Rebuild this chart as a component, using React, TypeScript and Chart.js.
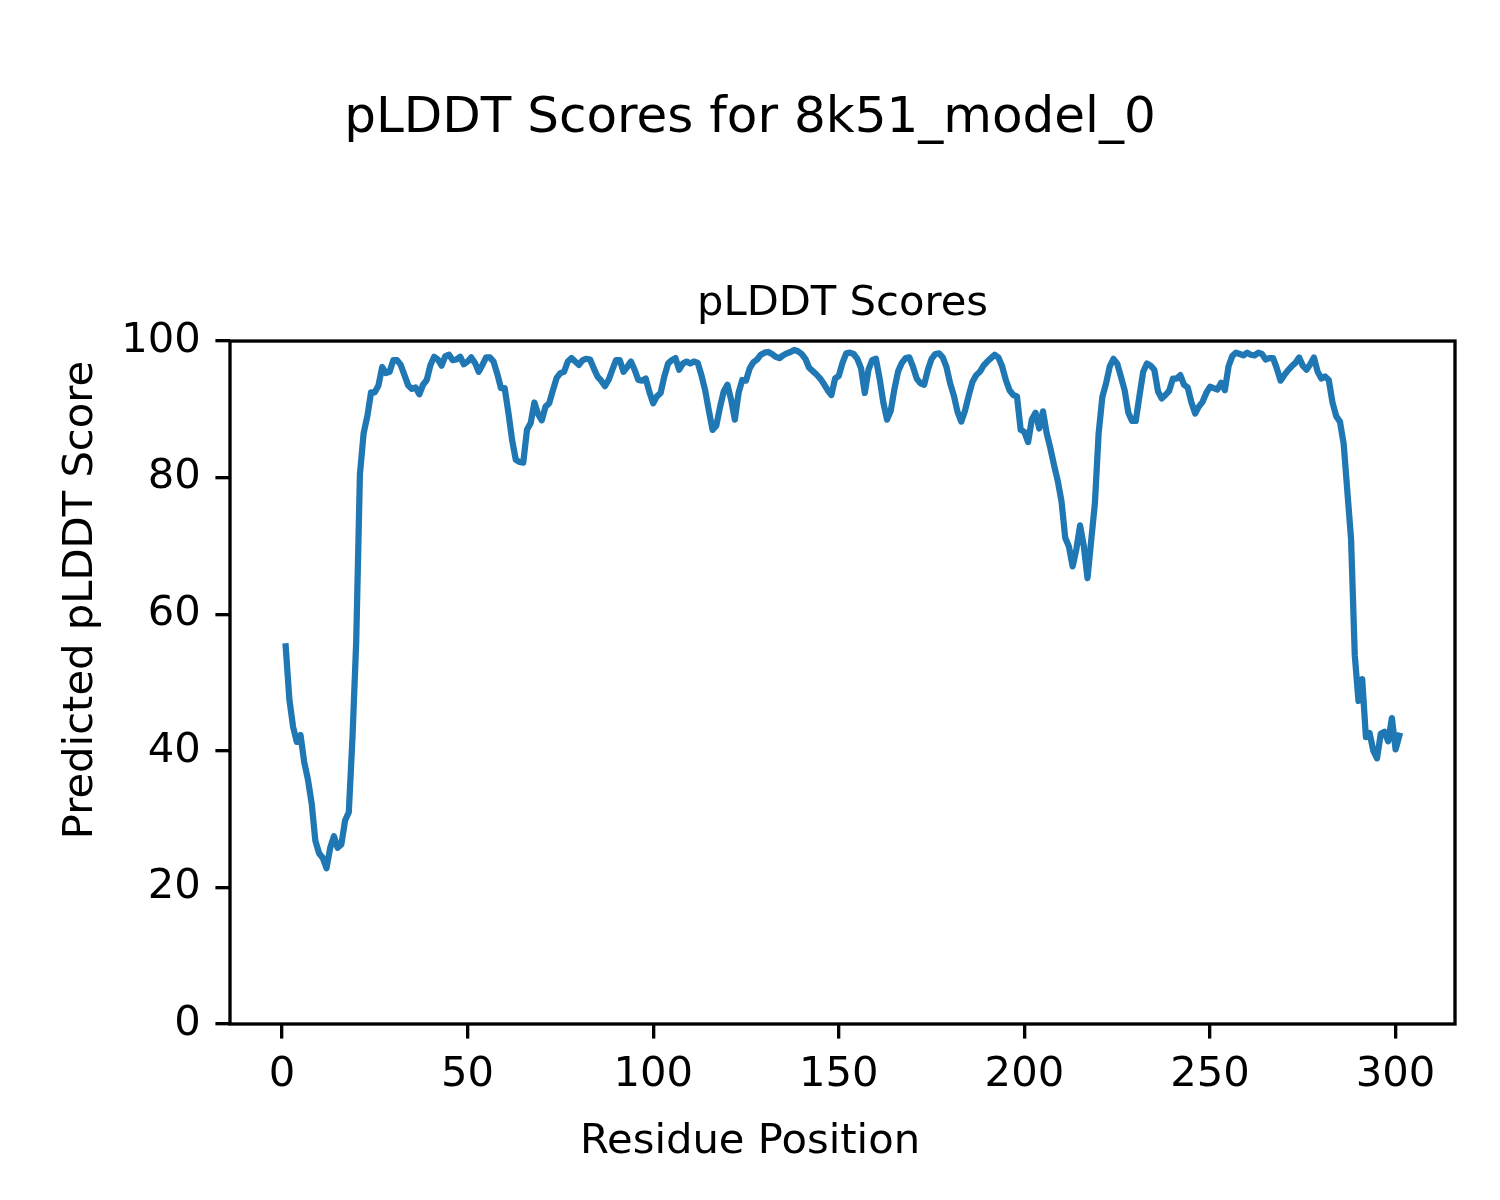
import React, { useEffect, useRef } from "react";
import { Chart, registerables } from "chart.js";

Chart.register(...registerables);

const figureTitle = "pLDDT Scores for 8k51_model_0";
const axesTitle = "pLDDT Scores";
const xAxisLabel = "Residue Position";
const yAxisLabel = "Predicted pLDDT Score";

const xTickValues = [0, 50, 100, 150, 200, 250, 300];
const yTickValues = [0, 20, 40, 60, 80, 100];

// pLDDT score per residue, residues 1..301
const scores = [
  55.3, 47.5, 43.5, 41.3, 42.3, 38.3, 35.8, 32.3, 26.8, 25.0,
  24.3, 22.8, 25.8, 27.5, 25.8, 26.3, 29.8, 31.0, 42.0, 56.0,
  80.5, 86.5, 89.0, 92.5, 92.5, 93.5, 96.2, 95.3, 95.5, 97.2,
  97.2, 96.5, 95.0, 93.5, 93.0, 93.2, 92.2, 93.6, 94.3, 96.5,
  97.7, 97.3, 96.4, 97.8, 98.0, 97.2, 97.3, 97.7, 96.6, 97.0,
  97.6, 96.8, 95.5, 96.5, 97.6, 97.6, 97.0, 95.2, 93.1, 93.1,
  89.5, 85.5, 82.6, 82.3, 82.2, 87.0, 88.0, 91.0, 89.3, 88.4,
  90.4, 90.9, 92.8, 94.6, 95.3, 95.5, 97.0, 97.5, 97.0, 96.5,
  97.2, 97.4, 97.3, 96.0, 94.8, 94.2, 93.4, 94.3, 95.8, 97.2,
  97.2, 95.5, 96.2, 97.0, 95.8, 94.3, 94.2, 94.5, 92.5, 90.9,
  91.9, 92.4, 94.8, 96.7, 97.2, 97.5, 95.8, 96.7, 97.0, 96.7,
  97.0, 96.8, 95.0, 92.8, 89.8, 87.0, 87.6, 90.3, 92.6, 93.6,
  91.4, 88.5, 92.4, 94.3, 94.2, 96.0, 96.9, 97.3, 98.0, 98.3,
  98.4, 98.1, 97.7, 97.5, 97.9, 98.2, 98.4, 98.7, 98.5, 98.1,
  97.4, 96.1, 95.6, 95.1, 94.5, 93.7, 92.8, 92.1, 94.5, 94.9,
  96.8, 98.2, 98.3, 98.1, 97.4, 96.0, 92.4, 95.8, 97.2, 97.4,
  94.5, 91.0, 88.5, 89.8, 93.0, 95.6, 96.8, 97.5, 97.6, 96.2,
  94.5, 93.8, 93.6, 95.8, 97.4, 98.1, 98.2, 97.6, 96.2, 93.8,
  92.0, 89.6, 88.2, 89.8, 92.0, 94.0, 95.0, 95.5, 96.4, 97.0,
  97.5, 98.0, 97.6, 96.3, 94.3, 92.8, 92.1, 91.9, 87.0, 86.7,
  85.2, 88.5, 89.5, 87.2, 89.7, 86.5, 84.3, 81.8, 79.5, 76.5,
  71.2, 69.9, 67.0, 69.5, 73.0, 70.0, 65.3, 70.8, 76.3, 86.5,
  91.8, 93.8, 96.3, 97.4, 96.7, 94.8, 92.8, 89.5, 88.3, 88.3,
  92.0, 95.5, 96.7, 96.4, 95.8, 92.6, 91.6, 92.1, 92.7, 94.5,
  94.5, 95.0, 93.6, 93.2, 91.0, 89.4, 90.4, 91.1, 92.4, 93.3,
  93.1, 92.9, 93.9, 92.8, 96.3, 97.8, 98.3, 98.1, 97.9, 98.3,
  98.0, 97.9, 98.3, 98.1, 97.3, 97.5, 97.5, 96.0, 94.2, 95.0,
  95.7, 96.3, 96.8, 97.6, 96.4, 95.8, 96.6, 97.6, 95.5, 94.5,
  94.8, 94.3, 91.0, 89.0, 88.2, 85.0, 78.0, 71.0, 54.0, 47.3,
  50.5, 42.0, 42.6, 40.0, 38.9, 42.5, 42.8, 41.4, 44.8, 40.2,
  42.2,
];

const FONT = "'DejaVu Sans', 'Liberation Sans', sans-serif";
const LW = 3.33;

const framePlugin = {
  id: "frame",
  afterDraw(chart: any) {
    const { ctx, chartArea } = chart;
    ctx.save();
    ctx.strokeStyle = "#000";
    ctx.lineWidth = LW;
    ctx.lineJoin = "miter";
    ctx.strokeRect(
      chartArea.left,
      chartArea.top,
      chartArea.right - chartArea.left,
      chartArea.bottom - chartArea.top
    );
    // axis labels (positioned relative to the figure, as in the reference)
    ctx.fillStyle = "#000";
    ctx.font = `41.7px ${FONT}`;
    ctx.textAlign = "center";
    ctx.textBaseline = "alphabetic";
    ctx.fillText(xAxisLabel, 750, 1153);
    ctx.translate(92, 600);
    ctx.rotate(-Math.PI / 2);
    ctx.fillText(yAxisLabel, 0, 0);
    ctx.restore();
  },
};

export default function App() {
  const canvasRef = useRef<HTMLCanvasElement | null>(null);

  useEffect(() => {
    const canvas = canvasRef.current;
    if (!canvas) return;
    const points = scores.map((s, i) => ({ x: i + 1, y: s }));
    const chart = new Chart(canvas, {
      type: "line",
      data: {
        datasets: [
          {
            data: points,
            borderColor: "#1f77b4",
            backgroundColor: "#1f77b4",
            borderWidth: 6.25,
            pointRadius: 0,
            tension: 0,
            fill: false,
            borderJoinStyle: "round",
            borderCapStyle: "square",
            yAxisID: "y",
          },
        ],
      },
      options: {
        responsive: false,
        devicePixelRatio: 1,
        animation: false,
        layout: { padding: { left: 0, right: 0, top: 0, bottom: 0 } },
        plugins: {
          legend: { display: false },
          tooltip: { enabled: false },
          title: {
            display: true,
            text: figureTitle,
            color: "#000",
            font: { family: FONT, size: 50, weight: "normal" },
            padding: { top: 89, bottom: 0 },
          },
          subtitle: {
            display: true,
            fullSize: false,
            text: axesTitle,
            color: "#000",
            font: { family: FONT, size: 41.7, weight: "normal" },
            padding: { top: 130, bottom: 12 },
          },
        },
        scales: {
          x: {
            type: "linear",
            min: -14,
            max: 316,
            afterBuildTicks: (scale: any) => {
              scale.ticks = xTickValues.map((v) => ({ value: v }));
            },
            afterFit: (scale: any) => {
              scale.height = 176;
            },
            ticks: {
              color: "#000",
              font: { family: FONT, size: 41.7 },
              padding: 12,
              maxRotation: 0,
              autoSkip: false,
            },
            grid: {
              display: true,
              drawOnChartArea: false,
              drawTicks: true,
              tickLength: 14.6,
              color: "#000",
              lineWidth: LW,
            },
            border: { display: false },
          },
          y: {
            type: "linear",
            position: "left",
            min: 0,
            max: 100,
            afterBuildTicks: (scale: any) => {
              scale.ticks = yTickValues.map((v) => ({ value: v }));
            },
            afterFit: (scale: any) => {
              scale.width = 230;
            },
            ticks: {
              color: "#000",
              font: { family: FONT, size: 41.7 },
              padding: 14.6,
              autoSkip: false,
            },
            grid: {
              display: true,
              drawOnChartArea: false,
              drawTicks: true,
              tickLength: 14.6,
              color: "#000",
              lineWidth: LW,
            },
            border: { display: false },
          },
          yRight: {
            type: "linear",
            position: "right",
            min: 0,
            max: 100,
            afterFit: (scale: any) => {
              scale.width = 45;
            },
            ticks: { display: false },
            grid: { display: false, drawTicks: false },
            border: { display: false },
          },
        },
      },
      plugins: [framePlugin],
    } as any);
    return () => chart.destroy();
  }, []);

  return (
    <div style={{ position: "absolute", left: 0, top: 0, width: 1500, height: 1200, background: "#fff" }}>
      <canvas ref={canvasRef} width={1500} height={1200} style={{ width: 1500, height: 1200, display: "block" }} />
    </div>
  );
}
